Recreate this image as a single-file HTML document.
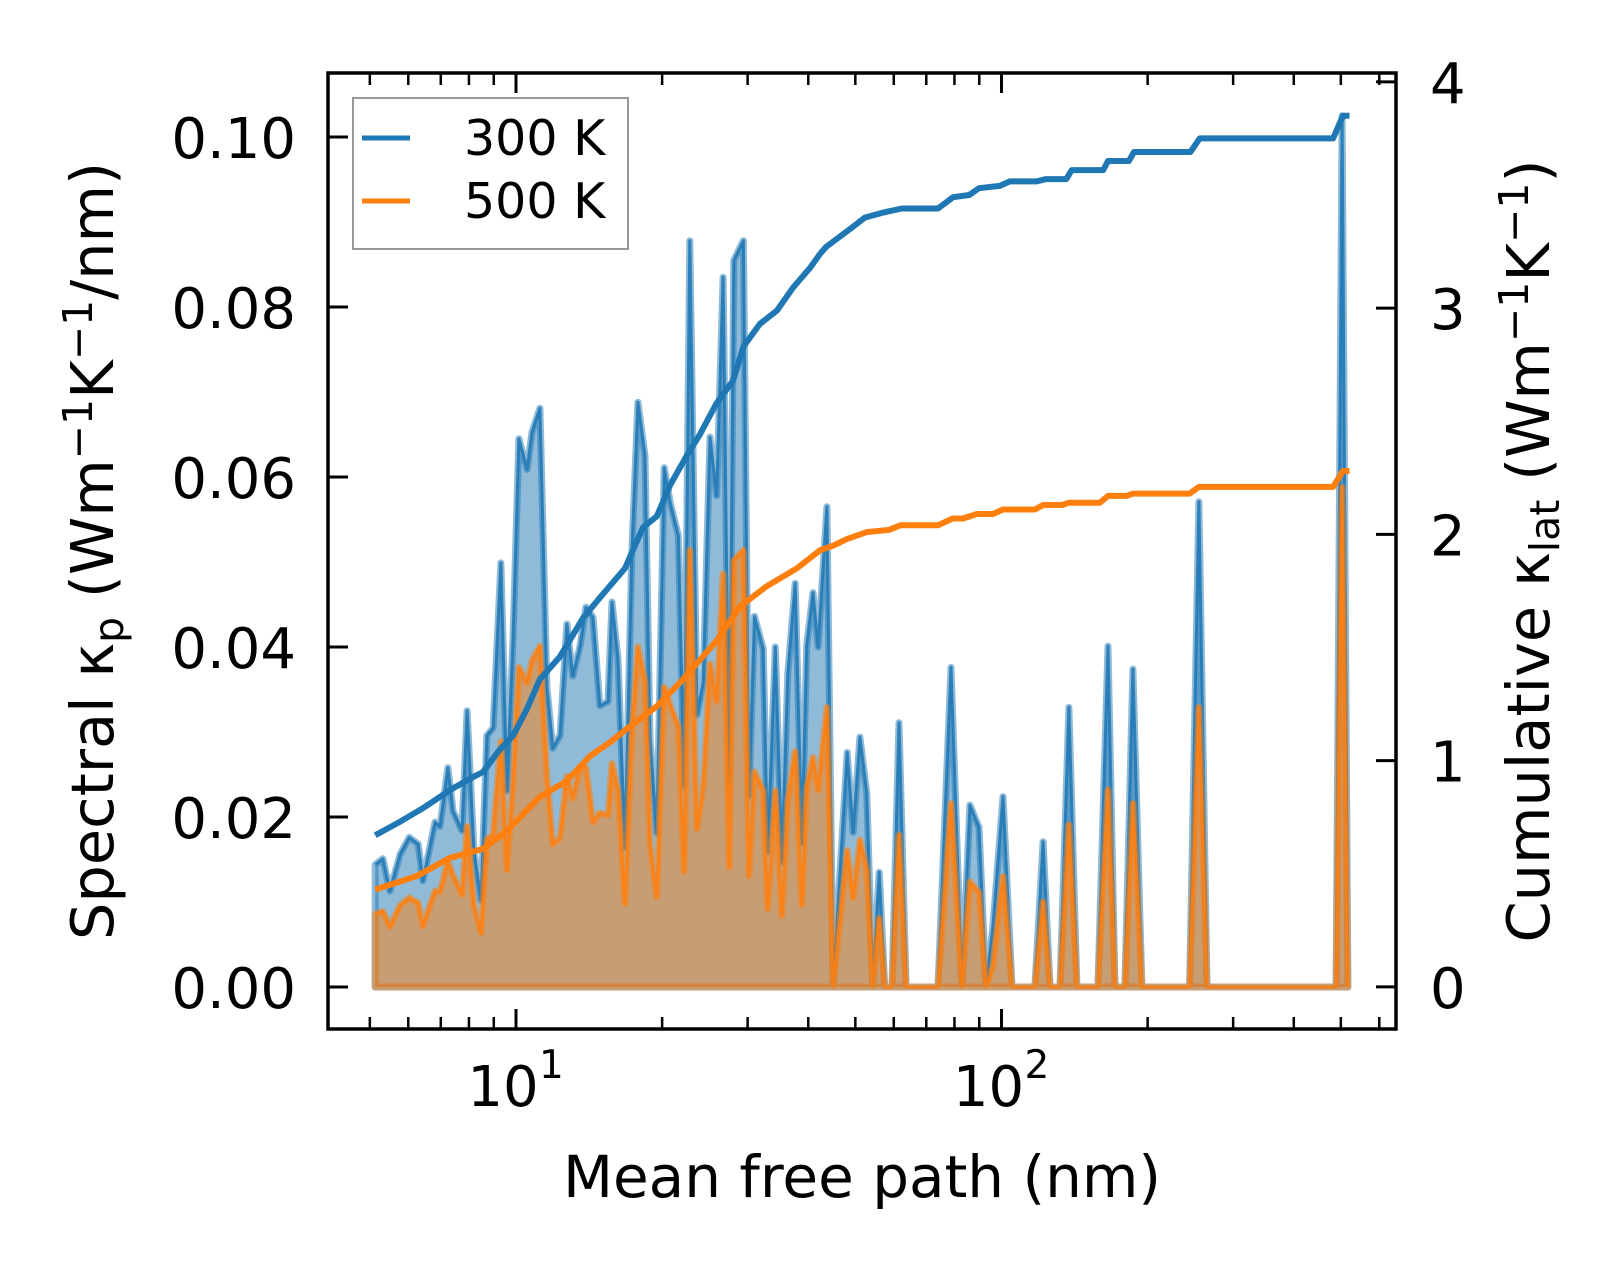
<!DOCTYPE html>
<html><head><meta charset="utf-8">
<style>
html,body{margin:0;padding:0;background:#fff;}
svg{display:block;font-family:"DejaVu Sans","Liberation Sans",sans-serif;}
</style></head>
<body>
<svg id="chart" width="1623" height="1267" viewBox="0 0 1623 1267" xmlns="http://www.w3.org/2000/svg">
<rect x="0" y="0" width="1623" height="1267" fill="#fff"/>
<g id="plot"></g>
<g id="axes"></g>
<g id="legend">
  <rect x="353" y="98" width="275" height="151" fill="#fff" fill-opacity="0.8" stroke="#999" stroke-width="2"/>
  <line x1="362" y1="138" x2="410" y2="138" stroke="#1f77b4" stroke-width="5"/>
  <text x="464" y="155" font-size="49">300 K</text>
  <line x1="362" y1="201" x2="410" y2="201" stroke="#ff7f0e" stroke-width="5"/>
  <text x="464" y="218" font-size="49">500 K</text>
</g>
<text x="862" y="1197" font-size="58" text-anchor="middle">Mean free path (nm)</text>
<text transform="translate(113,551) rotate(-90)" font-size="59" text-anchor="middle">Spectral κ<tspan font-size="41" dy="10">p</tspan><tspan dy="-10"> (Wm</tspan><tspan font-size="41" dy="-21">−1</tspan><tspan dy="21">K</tspan><tspan font-size="41" dy="-21">−1</tspan><tspan dy="21">/nm)</tspan></text>
<text transform="translate(1549,551) rotate(-90)" font-size="59" text-anchor="middle">Cumulative κ<tspan font-size="41" dy="10">lat</tspan><tspan dy="-10"> (Wm</tspan><tspan font-size="41" dy="-21">−1</tspan><tspan dy="21">K</tspan><tspan font-size="41" dy="-21">−1</tspan><tspan dy="21">)</tspan></text>
</svg>
<script>
const mfp=[5.13,5.32,5.50,5.77,6.03,6.29,6.43,6.81,6.97,7.24,7.42,7.74,7.93,8.19,8.47,8.71,8.97,9.31,9.58,9.86,10.14,10.54,10.79,11.2,11.58,11.91,12.32,12.73,13.09,13.55,13.93,14.41,14.89,15.47,15.77,16.22,16.77,17.33,17.83,18.44,18.88,19.5,20.2,20.8,21.6,22.2,22.8,23.6,24.3,25.1,25.9,26.7,27.5,28.1,29.4,30.2,31.0,32.3,33.0,34.2,35.3,36.3,37.6,38.8,39.7,40.9,41.9,43.7,45.0,48.1,49.5,51.1,52.8,54.3,56.0,57.5,59.5,61.5,63.6,74.0,78.7,82.9,86.1,89.9,92.9,96.0,100.7,105.1,117.2,121.8,125.9,132,137.7,143,158,165.7,171.3,179.6,186.5,194.6,244,255,265,489,503,517];
const spec300=[.0144,.0151,.0113,.0156,.0176,.0168,.0125,.0194,.0189,.0258,.0207,.0184,.0325,.0161,.0102,.0296,.0305,.0499,.0231,.0409,.0645,.0609,.0653,.0681,.0353,.0281,.0296,.0427,.0366,.0401,.0447,.0435,.0331,.0336,.0453,.0386,.0164,.0514,.0688,.0625,.0292,.0181,.0611,.0569,.0531,.0236,.0878,.0320,.0359,.0647,.0578,.0835,.0239,.0855,.0878,.0225,.0436,.0398,.0159,.0400,.0147,.0369,.0475,.0169,.0402,.0464,.0400,.0565,0,.0276,.0182,.0294,.0228,0,.0135,0,0,.0311,0,0,.0376,0,.0214,.0188,0,.0071,.0224,0,0,.0171,0,0,.0329,0,0,.0401,0,0,.0374,0,0,.0571,0,0,.1025,0];
const spec500=[.0086,.0089,.0071,.0096,.0105,.0099,.0072,.0113,.0112,.0148,.0131,.0109,.0189,.0096,.0064,.0174,.0179,.0289,.0138,.0240,.0376,.0358,.0384,.0401,.0248,.0168,.0176,.0248,.0222,.0259,.0258,.0194,.0205,.0202,.0263,.0231,.0098,.0302,.0400,.0359,.0169,.0106,.0353,.0331,.0306,.0136,.0514,.0186,.0236,.0380,.0336,.0486,.0141,.0502,.0514,.0131,.0253,.0231,.0092,.0231,.0084,.0220,.0277,.0097,.0235,.0270,.0232,.0329,0,.0161,.0105,.0173,.0138,0,.0081,0,0,.0179,0,0,.0216,0,.0124,.0111,0,.0025,.0130,0,0,.0100,0,0,.0191,0,0,.0232,0,0,.0216,0,0,.0329,0,0,.0588,0];
const cumMfp300=[5.13,5.77,6.43,7.31,8.04,8.55,9.27,9.86,10.54,11.2,12.32,13.74,14.89,16.77,18.26,19.5,20.8,22.5,23.9,25.9,28.0,29.4,31.8,34.5,37.2,40.4,42.3,43.5,48.8,52.3,56.5,62.3,74.0,79.5,85.8,89.9,99.2,104,118,123.5,136,139.5,162,165.7,183,187.5,245,256,482,505,521];
const cum300=[.67,.73,.79,.87,.92,.95,1.05,1.11,1.23,1.36,1.46,1.63,1.72,1.85,2.03,2.08,2.22,2.35,2.44,2.58,2.68,2.83,2.93,2.99,3.09,3.18,3.24,3.27,3.35,3.40,3.42,3.44,3.44,3.49,3.50,3.53,3.54,3.56,3.56,3.57,3.57,3.61,3.61,3.65,3.65,3.69,3.69,3.75,3.75,3.85,3.85];
const cumMfp500=[5.13,6.25,7.31,8.55,9.58,11.2,12.73,14.2,15.6,16.9,19.5,22.1,25.9,28.9,32.8,37.9,42.3,45.0,48.1,52.8,58.7,61.9,74.0,79.3,83.3,89.0,96.0,100.7,117.2,121.8,133.3,137.7,159.4,165.7,181,186.5,244,255,482,505,521];
const cum500=[.43,.49,.57,.61,.69,.84,.91,1.02,1.08,1.14,1.24,1.36,1.53,1.68,1.77,1.85,1.93,1.95,1.98,2.01,2.02,2.04,2.04,2.07,2.07,2.09,2.09,2.11,2.11,2.13,2.13,2.14,2.14,2.17,2.17,2.18,2.18,2.21,2.21,2.28,2.28];
const leftTicks=[0,0.02,0.04,0.06,0.08,0.10];
const leftTickLabels=["0.00","0.02","0.04","0.06","0.08","0.10"];
const rightTicks=[0,1,2,3,4];
const xMajor=[10,100];
const xMajorExp=["1","2"];
const xMinor=[5,6,7,8,9,20,30,40,50,60,70,80,90,200,300,400,500,600];

const NS="http://www.w3.org/2000/svg";
const L=328,R=1396,T=73,B=1029;
const xLogMin=0.6128,xLogMax=2.8126;
const yLMin=-0.00494,yLMax=0.10753;
const yRMin=-0.186,yRMax=4.039;
function X(v){return L+(Math.log10(v)-xLogMin)/(xLogMax-xLogMin)*(R-L);}
function YL(v){return B-(v-yLMin)/(yLMax-yLMin)*(B-T);}
function YR(v){return B-(v-yRMin)/(yRMax-yRMin)*(B-T);}
function mk(tag,attrs,parent){const e=document.createElementNS(NS,tag);for(const k in attrs)e.setAttribute(k,attrs[k]);parent.appendChild(e);return e;}
const plot=document.getElementById('plot');
const axes=document.getElementById('axes');

function specPaths(vals){
  let line="",fill="";
  mfp.forEach((m,i)=>{const p=X(m).toFixed(1)+","+YL(vals[i]).toFixed(1);line+=(i?"L":"M")+p;});
  fill="M"+X(mfp[0]).toFixed(1)+","+YL(0).toFixed(1)+line.replace(/^M/,"L")+"L"+X(mfp[mfp.length-1]).toFixed(1)+","+YL(0).toFixed(1)+"Z";
  return {line,fill};
}
const s3=specPaths(spec300), s5=specPaths(spec500);
let e;
e=mk('path',{d:s3.fill,fill:'rgba(31,119,180,0.5)',stroke:'rgba(31,119,180,0.5)','stroke-width':7,'stroke-linejoin':'round'},plot);


e=mk('path',{d:s3.line,fill:'none',stroke:'rgba(31,119,180,0.85)','stroke-width':3,'stroke-linejoin':'round'},plot);


e=mk('path',{d:s5.fill,fill:'rgba(255,127,14,0.5)',stroke:'rgba(255,127,14,0.5)','stroke-width':7,'stroke-linejoin':'round'},plot);


e=mk('path',{d:s5.line,fill:'none',stroke:'rgba(255,127,14,0.85)','stroke-width':3,'stroke-linejoin':'round'},plot);



function cumPath(ms,vs){return ms.map((m,i)=>(i?"L":"M")+X(m).toFixed(1)+","+YR(vs[i]).toFixed(1)).join("");}
e=mk('path',{d:cumPath(cumMfp300,cum300),fill:'none',stroke:'#1f77b4','stroke-width':6,'stroke-linejoin':'round'},plot);


e=mk('path',{d:cumPath(cumMfp500,cum500),fill:'none',stroke:'#ff7f0e','stroke-width':6,'stroke-linejoin':'round'},plot);



e=mk('rect',{x:L,y:T,width:R-L,height:B-T,fill:'none',stroke:'#000','stroke-width':3.5},axes);


leftTicks.forEach((v,i)=>{
  const y=YL(v);
  let t=mk('line',{x1:L,y1:y,x2:L+20,y2:y,stroke:'#000','stroke-width':3},axes);
  
  
  let tx=mk('text',{x:296,y:y+21,'font-size':56,'text-anchor':'end'},axes);
  tx.textContent=leftTickLabels[i];
  
  
});
rightTicks.forEach(v=>{
  const y=YR(v);
  let t=mk('line',{x1:R-20,y1:y,x2:R,y2:y,stroke:'#000','stroke-width':3},axes);
  
  
  let tx=mk('text',{x:1430,y:y+21,'font-size':56},axes);
  tx.textContent=String(v);
  
  
});
xMajor.forEach((v,i)=>{
  const x=X(v);
  [[B,B-20],[T,T+20]].forEach(p=>{
    let t=mk('line',{x1:x,y1:p[0],x2:x,y2:p[1],stroke:'#000','stroke-width':3},axes);
    
    
  });
  let tx=mk('text',{x:x-13,y:1106,'font-size':56,'text-anchor':'middle'},axes);
  tx.textContent="10";
  
  
  let sp=mk('text',{x:x+23,y:1078,'font-size':39,'text-anchor':'start'},axes);
  sp.textContent=xMajorExp[i];
  
  
});
xMinor.forEach(v=>{
  const x=X(v);
  [[B,B-12],[T,T+12]].forEach(p=>{
    let t=mk('line',{x1:x,y1:p[0],x2:x,y2:p[1],stroke:'#000','stroke-width':2.5},axes);
    
    
  });
});
</script>
</body></html>
